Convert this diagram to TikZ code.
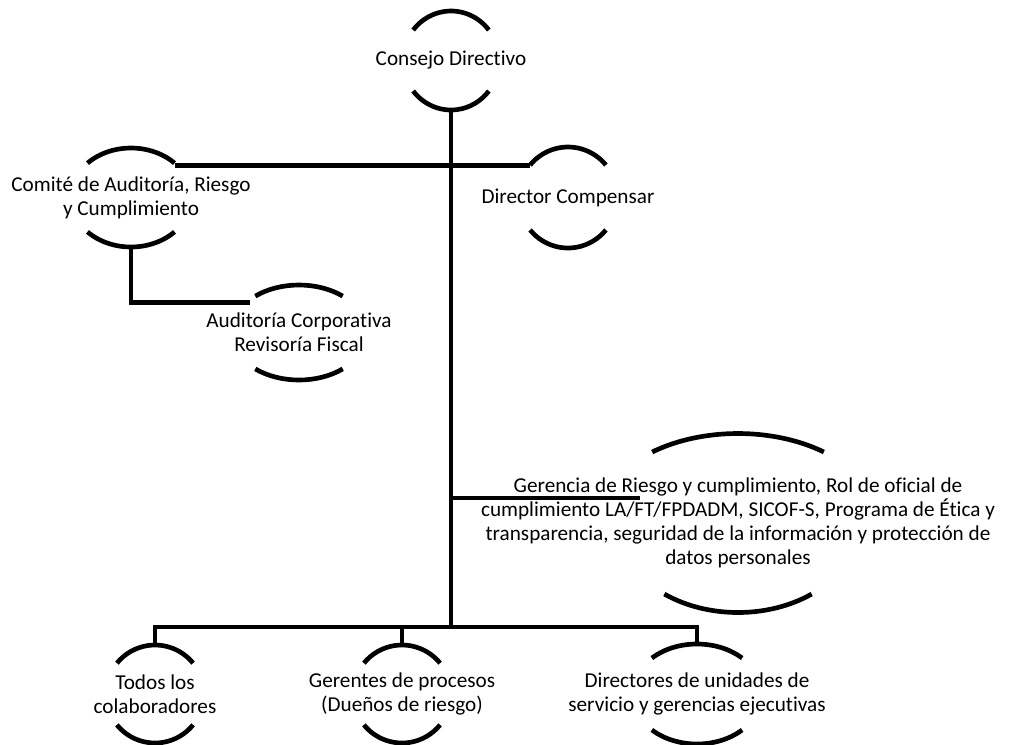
\documentclass[tikz,border=0pt]{standalone}
\usepackage{fontspec}
\setmainfont{Carlito}[Ligatures={NoCommon,NoContextual}]
% #1 name, #2 cx, #3 cy (down), #4 top x radius, #5 y radius, #6 angle, #7 bottom x radius
\newcommand\ringarcs[7]{%
  \coordinate (#1-c) at (#2,-#3);
  \coordinate (#1-n) at (#2,-#3+#5);
  \coordinate (#1-s) at (#2,-#3-#5);
  \draw[arcline] ([shift={(#6:#4 and #5)}]#1-c) coordinate (#1-tr)
     arc[start angle=#6, end angle=180-#6, x radius=#4, y radius=#5] coordinate (#1-tl);
  \draw[arcline] ([shift={(180+#6:#7 and #5)}]#1-c) coordinate (#1-bl)
     arc[start angle=180+#6, end angle=360-#6, x radius=#7, y radius=#5] coordinate (#1-br);
}
\begin{document}
\begin{tikzpicture}[x=0.75pt,y=0.75pt,
  lbl/.style={align=center,font=\fontsize{15.9}{18}\selectfont,inner sep=0pt},
  arcline/.style={line width=3.5pt},
  conn/.style={line width=3.7pt,line join=miter}]
\useasboundingbox (0,0) rectangle (1009,-744);
% shapes (arc pairs)
\ringarcs{cd}{451}{60.5}{48}{49.5}{38}{48}
\ringarcs{com}{131}{197.5}{60.5}{49.5}{44}{60.5}
\ringarcs{dir}{568}{197.5}{49.5}{50.5}{40}{49.5}
\ringarcs{aud}{299}{332.5}{68}{47.5}{50}{68}
\ringarcs{ger}{738}{523}{141}{89.5}{52.5}{121}
\ringarcs{tod}{155}{694}{49}{49}{39}{49}
\ringarcs{gte}{402}{694}{49}{49}{39}{49}
\ringarcs{drs}{697}{694}{65}{50}{46}{65}
% labels
\node[lbl] (cd) at (cd-c) {Consejo Directivo};
\node[lbl] (com) at (com-c) {Comité de Auditoría, Riesgo\\y Cumplimiento};
\node[lbl] (dir) at (dir-c) {Director Compensar};
\node[lbl] (aud) at (aud-c) {Auditoría Corporativa\\Revisoría Fiscal};
\node[lbl] (ger) at (ger-c) {Gerencia de Riesgo y cumplimiento, Rol de oficial de\\cumplimiento LA/FT/FPDADM, SICOF-S, Programa de Ética y\\transparencia, seguridad de la información y protección de\\datos personales};
\node[lbl] (tod) at (tod-c) {Todos los\\colaboradores};
\node[lbl] (gte) at (gte-c) {Gerentes de procesos\\(Dueños de riesgo)};
\node[lbl] (drs) at (drs-c) {Directores de unidades de\\servicio y gerencias ejecutivas};
% connectors
\coordinate (bus) at (451,-627);
\draw[conn] (cd-s) -- (bus);
\draw[conn] (dir-tl) -- (dir-tl -| com-tr);
\coordinate (audin) at ([shift={(-5,-6)}]aud-tl);
\draw[conn] (com-s) |- (audin);
\coordinate (gerin) at ([shift={(-98,25)}]ger-c);
\draw[conn] (cd-s |- gerin) -- (gerin);
\draw[conn] (tod-n) |- (bus) -| (drs-n);
\draw[conn] (gte-n) -- (gte-n |- bus);
\end{tikzpicture}
\end{document}
